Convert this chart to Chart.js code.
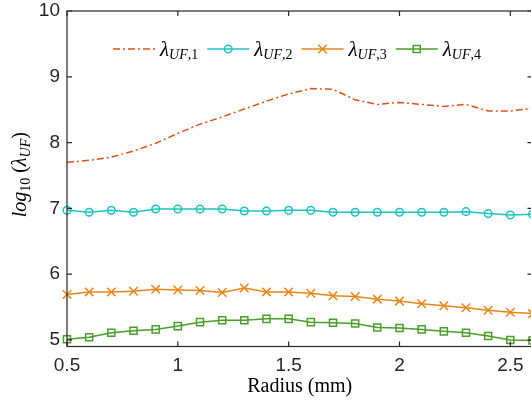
<!DOCTYPE html>
<html>
<head>
<meta charset="utf-8">
<script src="https://cdn.jsdelivr.net/npm/chart.js@4.4.1/dist/chart.umd.min.js"></script>
<style>
  html, body { margin: 0; padding: 0; background: #fff; overflow: hidden; }
  #wrap { width: 540px; height: 403px; }
</style>
</head>
<body>
<div id="wrap"><canvas id="main-chart" width="540" height="403"></canvas></div>
<script>
const radius = [0.5, 0.6, 0.7, 0.8, 0.9, 1.0, 1.1, 1.2, 1.3, 1.4, 1.5, 1.6, 1.7, 1.8, 1.9, 2.0, 2.1, 2.2, 2.3, 2.4, 2.5, 2.6]
const lambda1 = [7.70, 7.73, 7.78, 7.87, 7.99, 8.14, 8.28, 8.39, 8.51, 8.63, 8.74, 8.82, 8.81, 8.65, 8.58, 8.61, 8.58, 8.55, 8.58, 8.48, 8.48, 8.52]
const lambda2 = [6.97, 6.94, 6.97, 6.94, 6.99, 6.99, 6.99, 6.99, 6.96, 6.96, 6.97, 6.97, 6.94, 6.94, 6.94, 6.94, 6.94, 6.94, 6.95, 6.92, 6.90, 6.91]
const lambda3 = [5.69, 5.73, 5.73, 5.74, 5.77, 5.76, 5.75, 5.72, 5.79, 5.73, 5.73, 5.71, 5.67, 5.66, 5.62, 5.59, 5.55, 5.52, 5.49, 5.45, 5.42, 5.40]
const lambda4 = [5.01, 5.04, 5.11, 5.14, 5.16, 5.21, 5.27, 5.30, 5.30, 5.32, 5.32, 5.27, 5.26, 5.25, 5.19, 5.18, 5.16, 5.13, 5.11, 5.06, 5.00, 4.99]
const seriesSub = ["UF,1", "UF,2", "UF,3", "UF,4"]
const xTicks = [0.5, 1, 1.5, 2, 2.5]
const yTicks = [5, 6, 7, 8, 9, 10]

const toPoints = arr => radius.map((r, i) => ({x: r, y: arr[i]}))

const styles = [
    {color: "#D9541C", pointStyle: false, radius: 0, dash: [7, 3, 2, 3]},
    {color: "#1DC3C3", pointStyle: "circle", radius: 3.8, dash: []},
    {color: "#E9861A", pointStyle: "crossRot", radius: 6, dash: []},
    {color: "#4A9E2A", pointStyle: "rect", radius: 5, dash: []}
]
const series = [lambda1, lambda2, lambda3, lambda4]

const datasets = series.map((arr, i) => ({
    label: "λ" + seriesSub[i],
    data: toPoints(arr),
    borderColor: styles[i].color,
    borderWidth: 1.5,
    borderDash: styles[i].dash,
    pointStyle: styles[i].pointStyle,
    pointRadius: styles[i].radius,
    pointBorderColor: styles[i].color,
    pointBackgroundColor: "rgba(0,0,0,0)",
    pointBorderWidth: 1.5,
    tension: 0,
    clip: false
}))

function drawMath(ctx, parts, x, y, measureOnly) {
    parts.forEach(p => {
        ctx.font = (p.italic ? "italic " : "") + p.size + "px 'Liberation Serif'"
        if (!measureOnly) ctx.fillText(p.t, x, y + (p.dy || 0))
        x += ctx.measureText(p.t).width
    })
    return x
}

const boxPlugin = {
    id: "box",
    afterDatasetsDraw(chart) {
        const {ctx, chartArea: a, scales: {x, y}} = chart
        ctx.save()
        ctx.strokeStyle = "#262626"
        ctx.lineWidth = 1.2
        ctx.setLineDash([])
        ctx.strokeRect(a.left, a.top, a.right - a.left, a.bottom - a.top)
        ctx.beginPath()
        xTicks.forEach(v => {
            const px = x.getPixelForValue(v)
            ctx.moveTo(px, a.bottom)
            ctx.lineTo(px, a.bottom - 5)
            ctx.moveTo(px, a.top)
            ctx.lineTo(px, a.top + 5)
        })
        yTicks.forEach(v => {
            const py = y.getPixelForValue(v)
            ctx.moveTo(a.left, py)
            ctx.lineTo(a.left + 5, py)
            ctx.moveTo(a.right, py)
            ctx.lineTo(a.right - 5, py)
        })
        ctx.stroke()
        ctx.restore()
    }
}

const labelPlugin = {
    id: "labels",
    afterDraw(chart) {
        const ctx = chart.ctx
        const a = chart.chartArea
        ctx.save()
        ctx.fillStyle = "#000"
        ctx.textBaseline = "alphabetic"

        // y axis title, rotated
        const yParts = [
            {t: "log", size: 20, italic: true},
            {t: "10", size: 14, dy: 4},
            {t: " (", size: 20},
            {t: "λ", size: 20, italic: true},
            {t: "UF", size: 14, italic: true, dy: 4},
            {t: ")", size: 20}
        ]
        const w = drawMath(ctx, yParts, 0, 0, true)
        ctx.translate(26, (a.top + a.bottom) / 2 - 4)
        ctx.rotate(-Math.PI / 2)
        drawMath(ctx, yParts, -w / 2, 0)
        ctx.restore()

        // legend inside the plot
        ctx.save()
        let lx = 113
        const ly = 49
        chart.data.datasets.forEach((ds, i) => {
            const st = styles[i]
            ctx.strokeStyle = st.color
            ctx.lineWidth = 1.5
            ctx.setLineDash(st.dash)
            ctx.beginPath()
            ctx.moveTo(lx, ly)
            ctx.lineTo(lx + 42, ly)
            ctx.stroke()
            ctx.setLineDash([])
            if (st.pointStyle) {
                ctx.fillStyle = "rgba(0,0,0,0)"
                Chart.helpers.drawPoint(ctx, {pointStyle: st.pointStyle, radius: st.radius, rotation: 0, borderWidth: 1.5}, lx + 21, ly)
            }
            ctx.fillStyle = "#000"
            const end = drawMath(ctx, [
                {t: "λ", size: 21, italic: true},
                {t: seriesSub[i].slice(0, 2), size: 14, italic: true, dy: 3},
                {t: seriesSub[i].slice(2), size: 14, dy: 3}
            ], lx + 47, ly + 7)
            lx = end + 9
        })
        ctx.restore()
    }
}

const mainChart = document.querySelector("#main-chart")
new Chart(mainChart, {
    type: "line",
    data: {datasets: datasets},
    options: {
        responsive: false,
        animation: false,
        devicePixelRatio: 1,
        layout: {
            padding: {left: 0, top: 11, right: 5, bottom: 0}
        },
        scales: {
            x: {
                type: "linear",
                min: 0.5,
                max: 2.6,
                afterBuildTicks: scale => { scale.ticks = xTicks.map(v => ({value: v})) },
                afterFit: scale => {
                    scale.height = 56.5
                    scale.paddingLeft = 0
                    scale.paddingRight = 0
                },
                grid: {display: false, drawTicks: false},
                border: {display: false},
                ticks: {
                    padding: 8,
                    maxRotation: 0,
                    color: "#262626",
                    font: {family: "'Liberation Sans'", size: 19},
                    callback: v => String(v)
                },
                title: {
                    display: true,
                    text: "Radius (mm)",
                    color: "#000",
                    font: {family: "'Liberation Serif'", size: 20},
                    padding: {top: 0, bottom: 4}
                }
            },
            y: {
                min: 4.9,
                max: 10,
                afterBuildTicks: scale => { scale.ticks = yTicks.map(v => ({value: v})) },
                afterFit: scale => {
                    scale.width = 67
                    scale.paddingTop = 0
                    scale.paddingBottom = 0
                },
                grid: {display: false, drawTicks: false},
                border: {display: false},
                ticks: {
                    padding: 7,
                    color: "#262626",
                    font: {family: "'Liberation Sans'", size: 19},
                    callback: v => String(v)
                }
            }
        },
        plugins: {
            legend: {display: false},
            tooltip: {enabled: false}
        }
    },
    plugins: [boxPlugin, labelPlugin]
})
</script>
</body>
</html>
